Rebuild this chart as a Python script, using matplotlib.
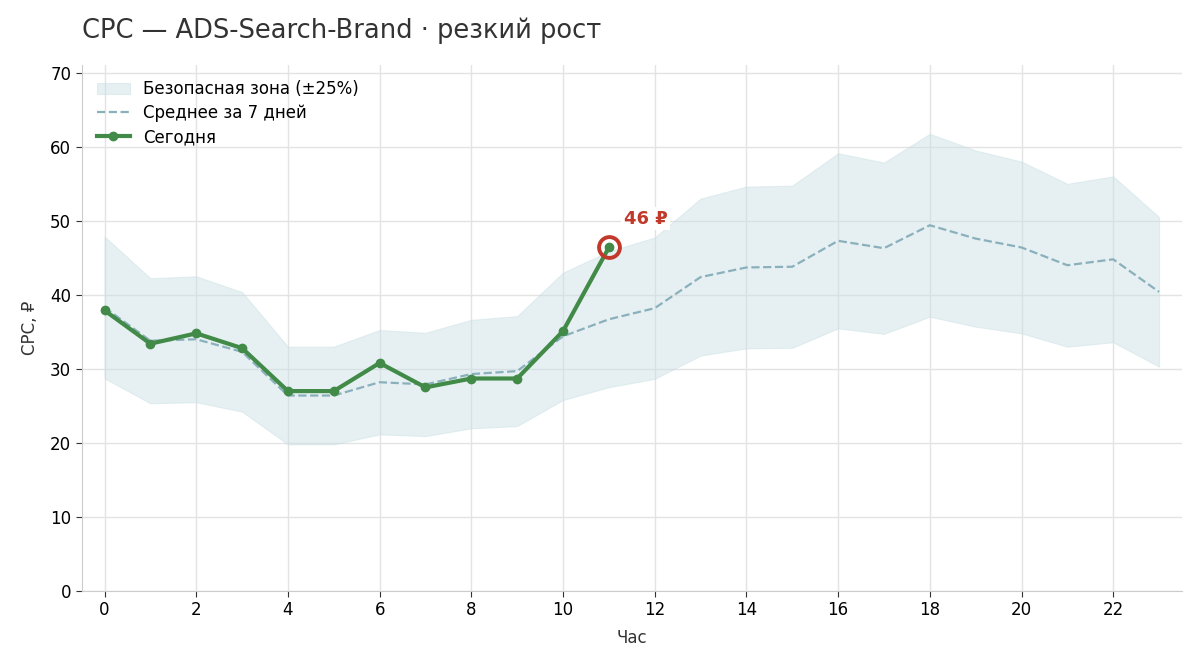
import numpy as np
import matplotlib
matplotlib.use("Agg")
import matplotlib.pyplot as plt

plt.rcParams['font.family'] = ['DejaVu Sans']

hours = list(range(24))
# среднее за 7 дней по часам
avg7 = [38.3, 33.8, 34.0, 32.3, 26.4, 26.4, 28.2, 27.9, 29.3, 29.7, 34.4, 36.7,
        38.2, 42.4, 43.7, 43.8, 47.3, 46.3, 49.4, 47.6, 46.4, 44.0, 44.8, 40.4]
# сегодня, до 11 часа
today = [37.9, 33.4, 34.8, 32.8, 27.0, 27.0, 30.8, 27.5, 28.7, 28.7, 35.1, 46.4]
band = 0.25
last_label = "46 ₽"

avg = np.array(avg7)
lo = avg * (1 - band)
hi = avg * (1 + band)

fig, ax = plt.subplots(figsize=(12, 6.67), dpi=100)
fig.subplots_adjust(left=0.068, right=0.985, top=0.902, bottom=0.114)

ax.fill_between(hours, lo, hi, color='#c9dfe3', alpha=0.45, linewidth=0.8,
                edgecolor='#c9dfe3', label='Безопасная зона (±25%)', zorder=1)
ax.plot(hours, avg7, color='#8ab0bc', linestyle='--', linewidth=1.6,
        label='Среднее за 7 дней', zorder=2)
ax.plot(hours[:len(today)], today, color='#428a48', linewidth=3, marker='o',
        markersize=6, label='Сегодня', zorder=3)

i = len(today) - 1
ax.plot(hours[i], today[i], marker='o', markersize=15, markerfacecolor='none',
        markeredgecolor='#c0392b', markeredgewidth=2.8, zorder=4)
ax.text(hours[i] + 0.33, today[i] + 3.9, last_label, color='#c0392b',
        fontsize=13, fontweight='bold', ha='left', va='center',
        bbox=dict(facecolor='white', edgecolor='none', pad=2), zorder=5)

ax.set_xlim(-0.5, 23.5)
ax.set_ylim(0, 71)
ax.set_xticks(range(0, 24, 2))
ax.set_yticks(range(0, 71, 10))
ax.tick_params(labelsize=12, length=4, color='#333333')

ax.grid(True, color='#e3e3e3', linewidth=1)
ax.set_axisbelow(True)
for s in ['top', 'right']:
    ax.spines[s].set_visible(False)
for s in ['left', 'bottom']:
    ax.spines[s].set_color('#cccccc')

ax.set_xlabel('Час', fontsize=12, color='#333333', labelpad=7)
ax.set_ylabel('CPC, ₽', fontsize=12, color='#333333', labelpad=8)
ax.set_title('CPC — ADS-Search-Brand · резкий рост', loc='left', fontsize=18.5,
             color='#333333', pad=20)

ax.legend(loc='upper left', frameon=False, fontsize=12, labelspacing=0.35)

plt.savefig('out.png', dpi=100)
